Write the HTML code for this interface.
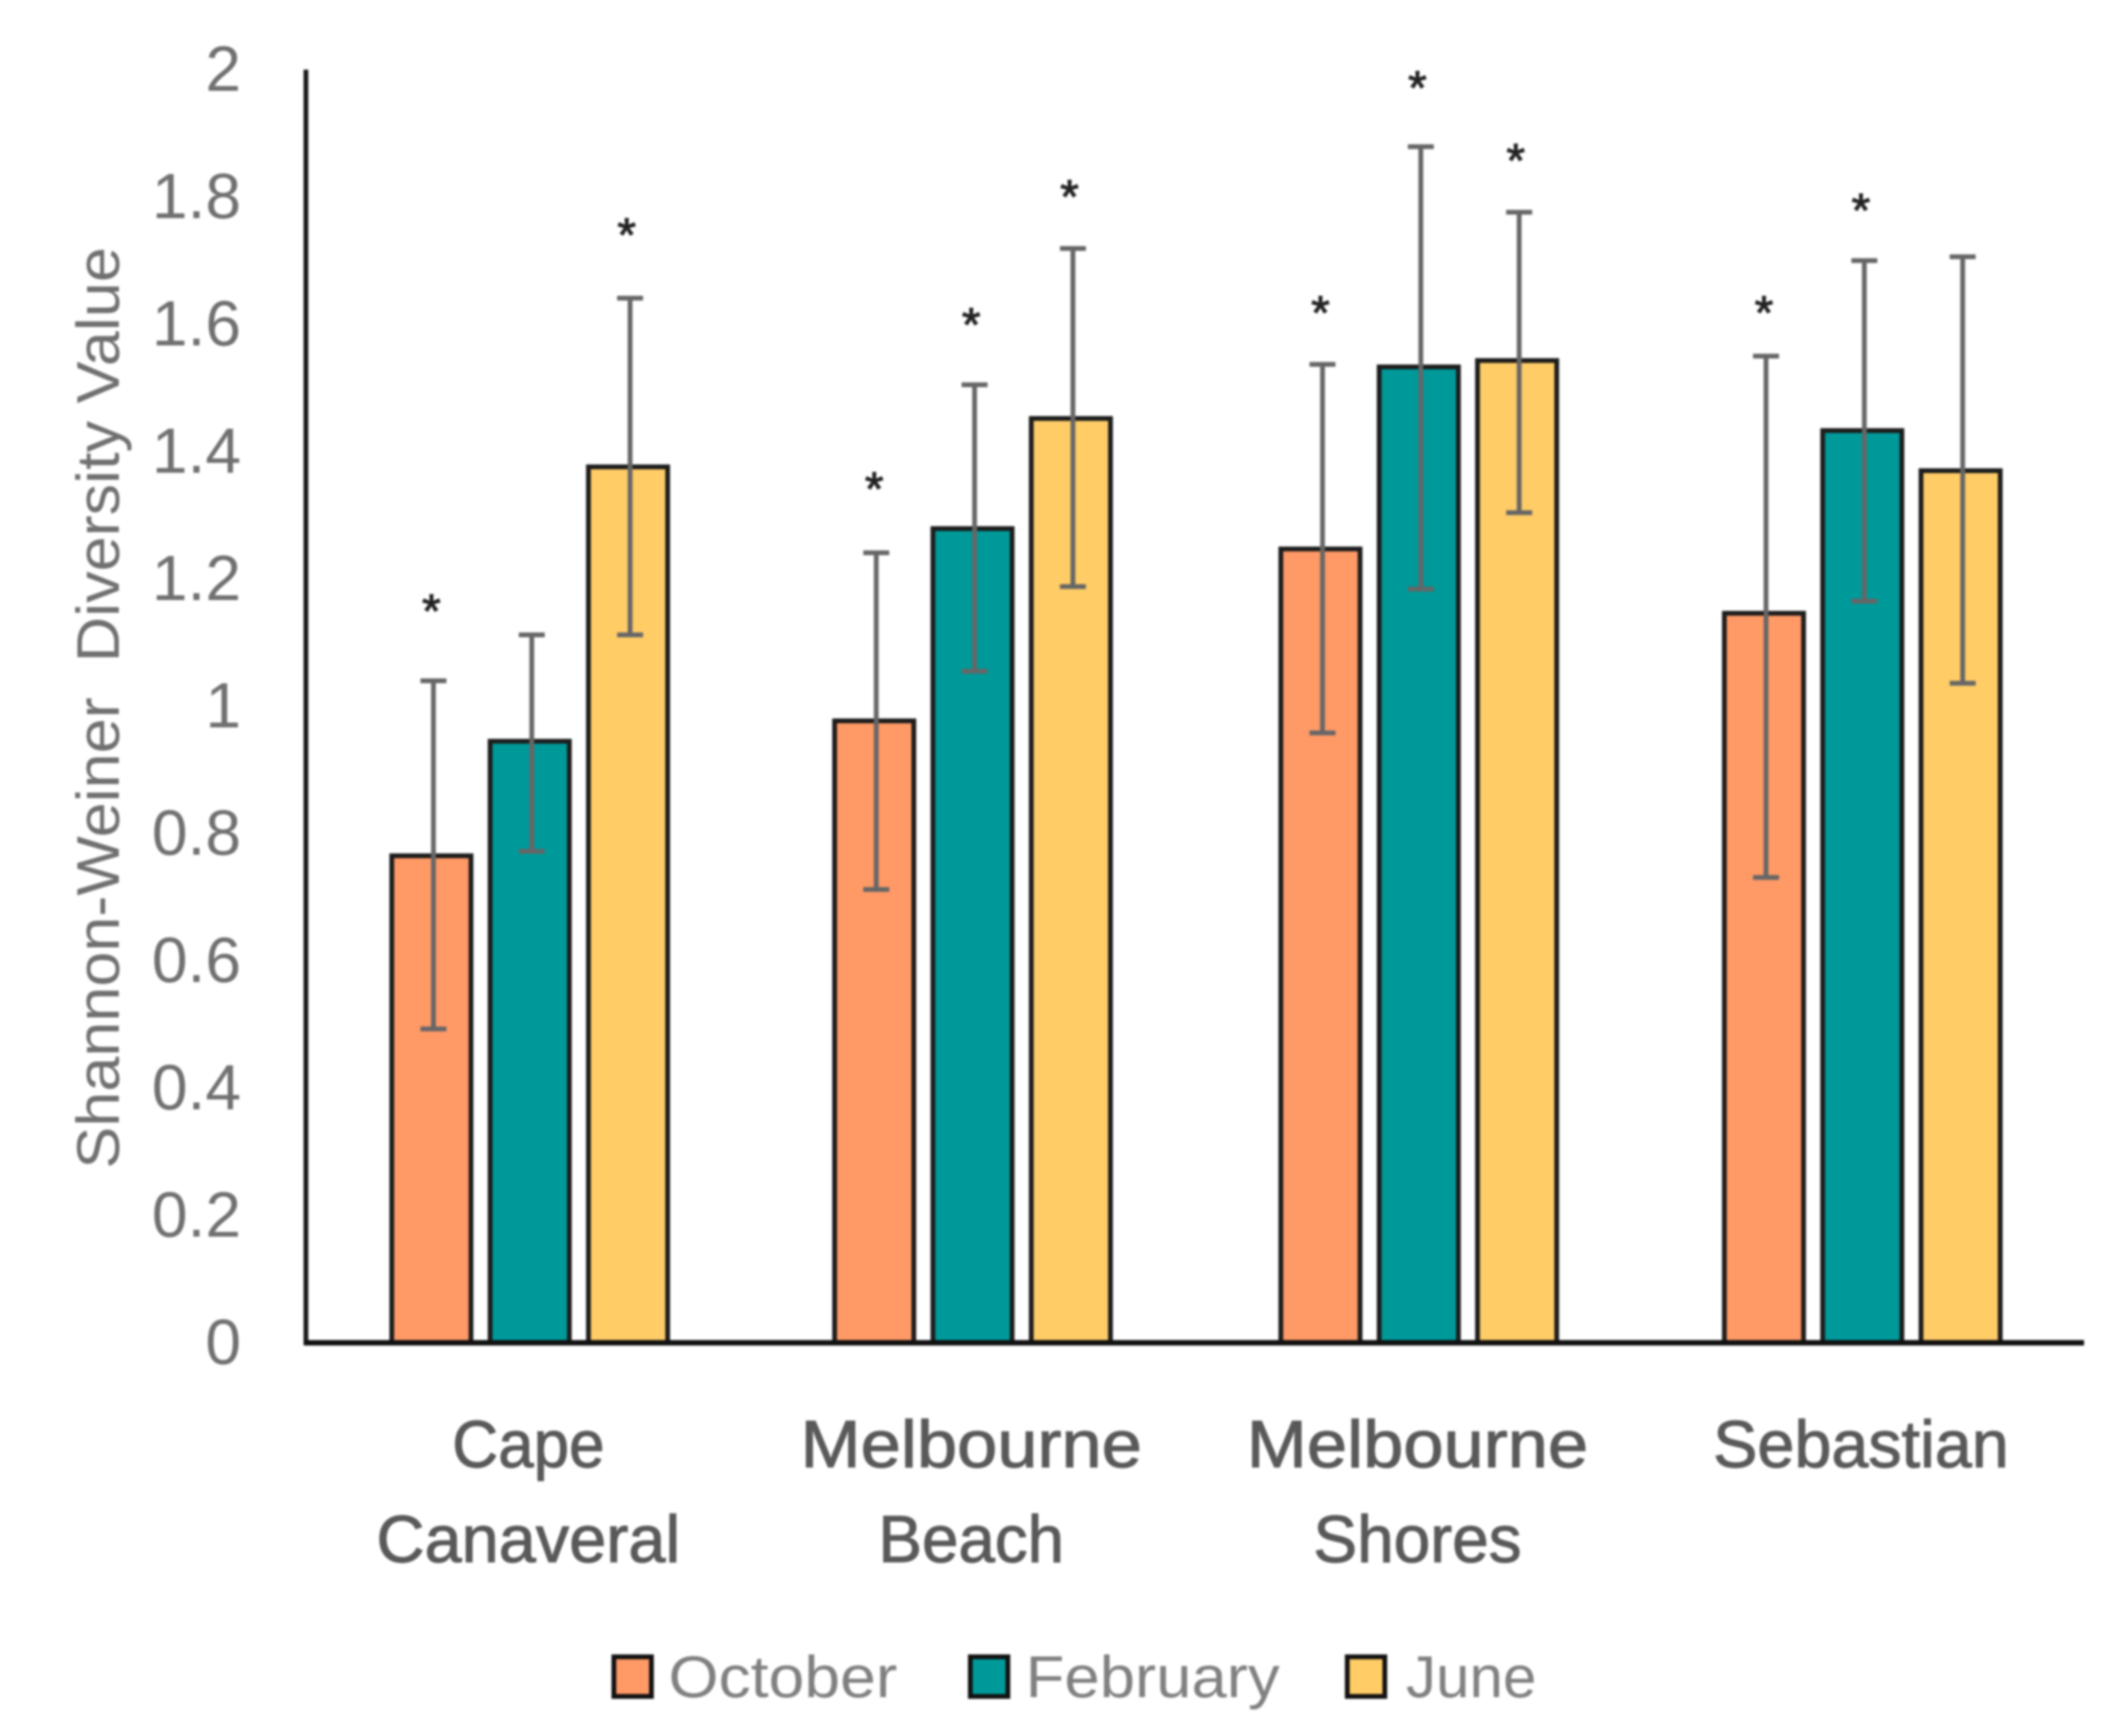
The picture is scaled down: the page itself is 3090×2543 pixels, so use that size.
<!DOCTYPE html>
<html lang="en">
<head>
<meta charset="utf-8">
<title>Shannon-Weiner Diversity Value by Location</title>
<style>
  html, body { margin: 0; padding: 0; background: #fff; }
  body { width: 3090px; height: 2543px; overflow: hidden; }
  svg { display: block; filter: blur(1.6px); }
  text { font-family: "Liberation Sans", sans-serif; }
</style>
</head>
<body>
<svg id="chart" xmlns="http://www.w3.org/2000/svg" width="3090" height="2543" viewBox="0 0 3090 2543"></svg>
<script>
const categories = [["Cape", "Canaveral"], ["Melbourne", "Beach"], ["Melbourne", "Shores"], ["Sebastian"]];
const seriesNames = ["October", "February", "June"];
const octoberValues = [0.765, 0.977, 1.247, 1.146];
const februaryValues = [0.945, 1.279, 1.533, 1.433];
const juneValues = [1.376, 1.452, 1.543, 1.370];
const octoberHigh = [1.040, 1.241, 1.537, 1.550];
const octoberLow = [0.493, 0.712, 0.958, 0.731];
const februaryHigh = [1.112, 1.505, 1.879, 1.700];
const februaryLow = [0.772, 1.055, 1.184, 1.165];
const juneHigh = [1.641, 1.719, 1.776, 1.706];
const juneLow = [1.112, 1.188, 1.304, 1.036];
const octoberStars = [1.159, 1.351, 1.628, 1.628];
const februaryStars = [null, 1.609, 1.981, 1.789];
const juneStars = [1.750, 1.810, 1.867, null];
const yTicks = [0, 0.2, 0.4, 0.6, 0.8, 1, 1.2, 1.4, 1.6, 1.8, 2];
const yAxisTitle = "Shannon-Weiner\u00A0\u00A0Diversity Value";

const svg = document.getElementById('chart');
const NS = 'http://www.w3.org/2000/svg';
const plot = { left: 447, right: 3052, top: 102, bottom: 1967 };
const yMax = 2;
const bandWidth = 651.5;
const barStep = 144;
const barWidth = 116;
const groupNudge = [3, 0, 2, 0];
const colors = ["#FF9966", "#009999", "#FFCC66"];
const allValues = [octoberValues, februaryValues, juneValues];
const allHigh = [octoberHigh, februaryHigh, juneHigh];
const allLow = [octoberLow, februaryLow, juneLow];
const allStars = [octoberStars, februaryStars, juneStars];

function yScale(v) { return plot.bottom - (v / yMax) * (plot.bottom - plot.top); }
function groupCenter(i) { return plot.left + (i + 0.5) * bandWidth + groupNudge[i]; }
function barCenter(i, s) { return groupCenter(i) + (s - 1) * barStep; }

function make(tag, attrs, text) {
  const el = document.createElementNS(NS, tag);
  for (const k in attrs) el.setAttribute(k, attrs[k]);
  if (text !== undefined) el.textContent = text;
  svg.appendChild(el);
  return el;
}

// Y axis tick labels
yTicks.forEach(function (t) {
  const el = make('text', { x: 353, y: yScale(t) + 31, 'text-anchor': 'end', 'font-size': 94, fill: '#707070' }, String(t));
  
  
});

// Y axis title
const yTitle = make('text', {
  transform: 'translate(174,1037) rotate(-90)',
  'text-anchor': 'middle', 'font-size': 88, fill: '#707070',
  textLength: 1350, lengthAdjust: 'spacingAndGlyphs'
}, yAxisTitle);



// Bars
categories.forEach(function (cat, i) {
  seriesNames.forEach(function (name, s) {
    const top = yScale(allValues[s][i]);
    const bar = make('rect', {
      x: barCenter(i, s) - barWidth / 2, y: top,
      width: barWidth, height: plot.bottom - top,
      fill: colors[s], stroke: '#1c1c1c', 'stroke-width': 7
    });
    
    
  });
});

// Error bars
categories.forEach(function (cat, i) {
  seriesNames.forEach(function (name, s) {
    const cx = barCenter(i, s) + 3;
    const hi = yScale(allHigh[s][i]);
    const lo = yScale(allLow[s][i]);
    const stem = make('line', { x1: cx, x2: cx, y1: hi, y2: lo, stroke: '#666666', 'stroke-width': 7 });
    
    
    const capTop = make('line', { x1: cx - 19, x2: cx + 19, y1: hi, y2: hi, stroke: '#666666', 'stroke-width': 7 });
    
    
    const capBottom = make('line', { x1: cx - 19, x2: cx + 19, y1: lo, y2: lo, stroke: '#666666', 'stroke-width': 7 });
    
    
  });
});

// Significance asterisks
categories.forEach(function (cat, i) {
  seriesNames.forEach(function (name, s) {
    const v = allStars[s][i];
    if (v === null) return;
    const star = make('text', {
      x: barCenter(i, s) + (s === 0 ? 0 : -2), y: yScale(v) + 33,
      'text-anchor': 'middle', 'font-size': 70, fill: '#222222',
      stroke: '#222222', 'stroke-width': 1.5
    }, '*');
    
    
  });
});

// Axes
const yAxis = make('line', { x1: plot.left + 1, x2: plot.left + 1, y1: plot.top, y2: plot.bottom + 3, stroke: '#1a1a1a', 'stroke-width': 7 });


const xAxis = make('line', { x1: plot.left - 2, x2: plot.right, y1: plot.bottom, y2: plot.bottom, stroke: '#111111', 'stroke-width': 8 });



// Category labels
const labelWidths = { "Cape": 223, "Canaveral": 445, "Melbourne": 500, "Beach": 272, "Shores": 305, "Sebastian": 433 };
categories.forEach(function (lines, i) {
  lines.forEach(function (line, n) {
    const lbl = make('text', {
      x: groupCenter(i) - 2, y: 2149 + n * 139,
      'text-anchor': 'middle', 'font-size': 97, fill: '#595959',
      stroke: '#595959', 'stroke-width': 1.5,
      textLength: labelWidths[line], lengthAdjust: 'spacingAndGlyphs'
    }, line);
    
    
  });
});

// Legend
const legendSwatchX = [899, 1421, 1973];
const legendTextX = [979, 1502, 2059];
const legendTextW = [335, 372, 191];
seriesNames.forEach(function (name, s) {
  const sw = make('rect', {
    x: legendSwatchX[s], y: 2427, width: 55, height: 58,
    fill: colors[s], stroke: '#111111', 'stroke-width': 7
  });
  
  
  const tx = make('text', {
    x: legendTextX[s], y: 2486, 'font-size': 86, fill: '#808080',
    textLength: legendTextW[s], lengthAdjust: 'spacingAndGlyphs'
  }, name);
  
  
});
</script>
</body>
</html>
